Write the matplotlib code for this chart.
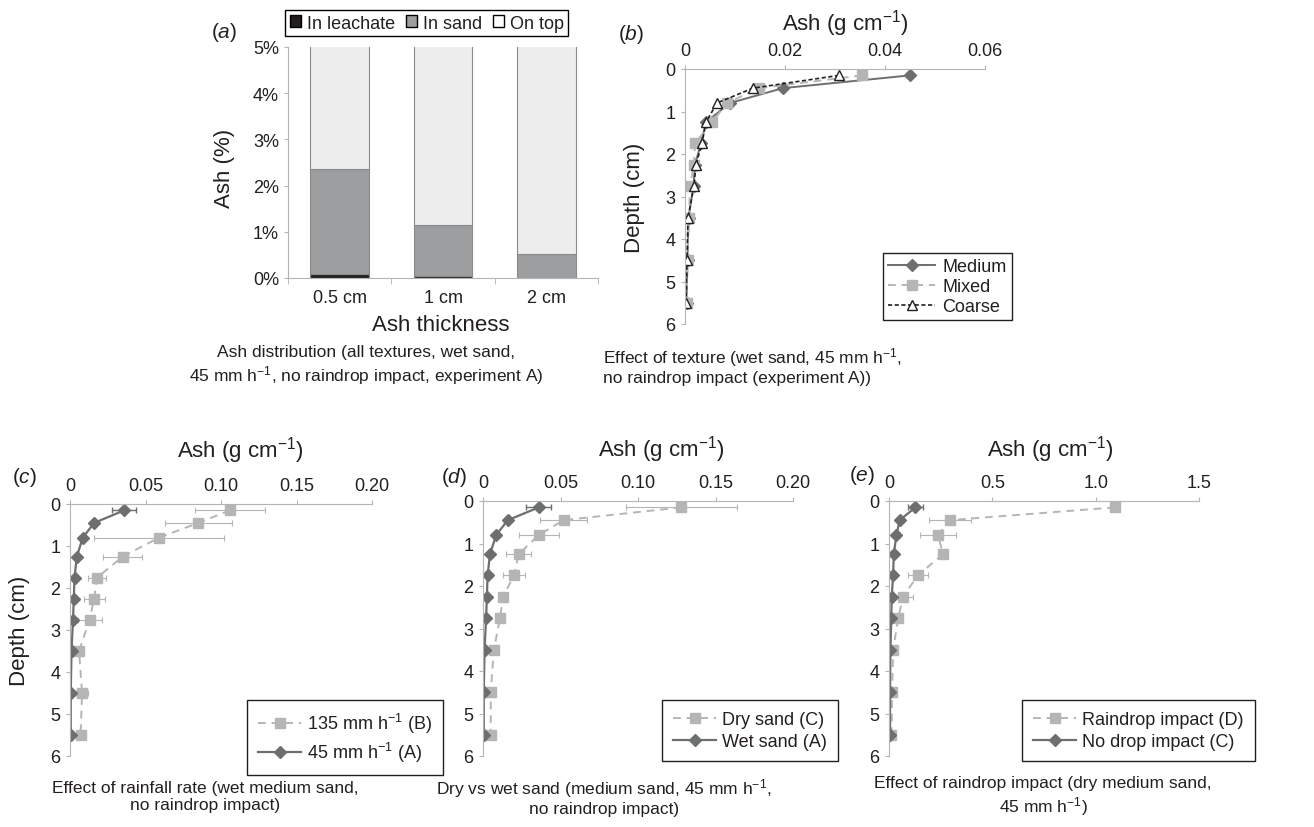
import numpy as np
import matplotlib
matplotlib.use('Agg')
import matplotlib.pyplot as plt
from matplotlib.patches import Patch

plt.rcParams['font.family'] = ['Liberation Sans', 'DejaVu Sans']
plt.rcParams['mathtext.fontset'] = 'custom'
plt.rcParams['mathtext.rm'] = 'Liberation Sans'
plt.rcParams['mathtext.it'] = 'Liberation Sans:italic'
plt.rcParams['text.color'] = '#231f20'
plt.rcParams['xtick.color'] = '#b4b4b4'
plt.rcParams['ytick.color'] = '#b4b4b4'
plt.rcParams['xtick.labelcolor'] = '#231f20'
plt.rcParams['ytick.labelcolor'] = '#231f20'

# ---- panel (a) data: ash distribution (% of applied ash)
thickness = ['0.5 cm', '1 cm', '2 cm']
in_leachate = [0.08, 0.05, 0.01]
in_sand = [2.27, 1.10, 0.50]
on_top = [97.65, 98.85, 99.49]

# ---- depth profiles (cm)
depth = [0.15, 0.45, 0.8, 1.25, 1.75, 2.25, 2.75, 3.5, 4.5, 5.5]

# panel (b): texture
medium = [0.045, 0.0196, 0.009, 0.0042, 0.0032, 0.002, 0.0017, 0.0007, 0.0005, 0.0003]
mixed = [0.0354, 0.0148, 0.0084, 0.0054, 0.002, 0.0018, 0.001, 0.0008, 0.0005, 0.0003]
coarse = [0.0308, 0.0136, 0.0064, 0.0042, 0.0034, 0.0022, 0.0018, 0.0006, 0.0004, 0.0002]

# experiment A (wet medium sand, 45 mm/h, no raindrop impact)
exp_a = [0.036, 0.016, 0.0085, 0.0045, 0.003, 0.0025, 0.002, 0.001, 0.0005, 0.0005]
exp_a_err = [0.008, 0.001, 0.001, 0.0005, 0.0005, 0.0005, 0.0005, 0.0003, 0.0002, 0.0002]

# experiment B (135 mm/h)
exp_b = [0.106, 0.085, 0.059, 0.035, 0.018, 0.016, 0.013, 0.006, 0.008, 0.007]
exp_b_err = [0.023, 0.022, 0.043, 0.013, 0.006, 0.007, 0.008, 0.002, 0.004, 0.002]

# experiment C (dry medium sand)
exp_c = [0.128, 0.052, 0.036, 0.023, 0.020, 0.013, 0.011, 0.007, 0.005, 0.005]
exp_c_err = [0.036, 0.015, 0.013, 0.008, 0.007, 0.002, 0.002, 0.001, 0.001, 0.001]

# experiment D (raindrop impact)
exp_d = [1.093, 0.295, 0.237, 0.261, 0.140, 0.068, 0.045, 0.020, 0.015, 0.012]
exp_d_err = [0.01, 0.10, 0.087, 0.01, 0.05, 0.05, 0.01, 0.005, 0.005, 0.005]

DARK = '#6d6e70'
LIGHT = '#b5b5b5'
SPINE = '#b4b4b4'
W, H = 1314, 828
TICK_FS = 13
LABEL_FS = 16


def box(x0, y0, x1, y1):
    # pixel box -> figure fraction rect
    return [x0 / W, 1 - y1 / H, (x1 - x0) / W, (y1 - y0) / H]


def depth_axes(rect, xmax, xticks, xticklabels):
    ax = fig.add_axes(rect)
    ax.set_xlim(0, xmax)
    ax.set_ylim(6, 0)
    ax.xaxis.tick_top()
    ax.set_xticks(xticks, xticklabels)
    ax.set_yticks(range(7))
    for s in ['bottom', 'right']:
        ax.spines[s].set_visible(False)
    for s in ['top', 'left']:
        ax.spines[s].set_color(SPINE)
    ax.tick_params(labelsize=TICK_FS, length=3, width=0.8, pad=4)
    return ax


fig = plt.figure(figsize=(13.14, 8.28), dpi=100)

# ---------------- (a)
ax = fig.add_axes(box(288, 48, 598, 279))
x = np.arange(len(thickness))
bw = 0.57
ax.bar(x, in_leachate, bw, color='#231f20', edgecolor='#8a8a8a', linewidth=0.8)
ax.bar(x, in_sand, bw, bottom=in_leachate, color='#9d9ea0', edgecolor='#8a8a8a', linewidth=0.8)
bottom2 = np.array(in_leachate) + np.array(in_sand)
ax.bar(x, on_top, bw, bottom=bottom2, color='#ededed', edgecolor='#8a8a8a', linewidth=0.8)
ax.set_xlim(-0.5, 2.5)
ax.set_ylim(0, 5)
ax.set_yticks(range(6), ['%d%%' % v for v in range(6)])
ax.set_xticks(x, thickness)
ax.set_xticks([-0.5, 0.5, 1.5, 2.5], minor=True)
ax.tick_params(axis='x', which='major', length=0, pad=8)
ax.tick_params(axis='x', which='minor', length=4, color=SPINE)
ax.tick_params(axis='y', length=3, color=SPINE)
ax.tick_params(labelsize=TICK_FS)
for s in ['top', 'right']:
    ax.spines[s].set_visible(False)
for s in ['bottom', 'left']:
    ax.spines[s].set_color(SPINE)
ax.text(-0.205, 0.48, 'Ash (%)', rotation=90, fontsize=LABEL_FS, ha='center', va='center',
        transform=ax.transAxes)
ax.text(0.494, -0.2, 'Ash thickness', fontsize=LABEL_FS, ha='center', va='center',
        transform=ax.transAxes)
handles = [Patch(facecolor='#231f20', edgecolor='black', label='In leachate'),
           Patch(facecolor='#9d9ea0', edgecolor='black', label='In sand'),
           Patch(facecolor='white', edgecolor='black', label='On top')]
fig.legend(handles=handles, loc='upper left', bbox_to_anchor=(285 / W, 1 - 11 / H), ncol=3,
           fontsize=13, frameon=True, fancybox=False, edgecolor='black', framealpha=1,
           handlelength=0.65, handleheight=0.65, handletextpad=0.3, columnspacing=0.6,
           borderpad=0.25, borderaxespad=0)
fig.text(211 / W, 1 - 33 / H, r'($\it{a}$)', fontsize=15, ha='left', va='center')

# ---------------- (b)
ax = depth_axes(box(685, 70, 985, 325), 0.06, [0, 0.02, 0.04, 0.06],
                ['0', '0.02', '0.04', '0.06'])
ax.plot(medium, depth, color=DARK, lw=1.4, marker='D', ms=6, mfc=DARK, mec=DARK, label='Medium')
ax.plot(mixed, depth, color=LIGHT, lw=1.4, ls=(0, (4, 3)), marker='s', ms=7, mfc=LIGHT,
        mec=LIGHT, label='Mixed')
ax.plot(coarse, depth, color='#231f20', lw=1.2, ls=(0, (2.5, 1.5)), marker='^', ms=7,
        mfc='white', mec='#231f20', mew=1, label='Coarse')
ax.text(0.533, 1.184, 'Ash (g cm$^{-1}$)', fontsize=LABEL_FS, ha='center', va='center',
        transform=ax.transAxes)
ax.text(-0.167, 0.5, 'Depth (cm)', rotation=90, fontsize=LABEL_FS, ha='center', va='center',
        transform=ax.transAxes)
fig.legend(*ax.get_legend_handles_labels(), loc='upper left',
           bbox_to_anchor=(883 / W, 1 - 254 / H), fontsize=13, frameon=True, fancybox=False,
           edgecolor='#231f20', framealpha=1, handlelength=2.6, handletextpad=0.4,
           borderpad=0.3, labelspacing=0.15, borderaxespad=0)
fig.text(618 / W, 1 - 35 / H, r'($\it{b}$)', fontsize=15, ha='left', va='center')


def two_series(ax, light, light_err, light_lab, dark, dark_err, dark_lab):
    ax.errorbar(light, depth, xerr=light_err, fmt='none', ecolor=LIGHT, elinewidth=0.8,
                capsize=2.5, capthick=0.8)
    ax.errorbar(dark, depth, xerr=dark_err, fmt='none', ecolor=DARK, elinewidth=1,
                capsize=2.5, capthick=1)
    l1, = ax.plot(light, depth, color=LIGHT, lw=1.4, ls=(0, (4, 3)), marker='s', ms=7,
                  mfc=LIGHT, mec=LIGHT, label=light_lab)
    l2, = ax.plot(dark, depth, color=DARK, lw=1.6, marker='D', ms=6, mfc=DARK, mec=DARK,
                  label=dark_lab)
    return [l1, l2]


def bottom_legend(handles, x0):
    fig.legend(handles=handles, loc='upper left', bbox_to_anchor=(x0 / W, 1 - 701 / H),
               fontsize=13, frameon=True, fancybox=False, edgecolor='#231f20', framealpha=1,
               handlelength=2.4, handletextpad=0.35, borderpad=0.6, labelspacing=0.3,
               borderaxespad=0)


# ---------------- (c)
ax = depth_axes(box(70, 505, 372, 757), 0.20, [0, 0.05, 0.10, 0.15, 0.20],
                ['0', '0.05', '0.10', '0.15', '0.20'])
hs = two_series(ax, exp_b, exp_b_err, '135 mm h$^{-1}$ (B)', exp_a, exp_a_err,
                '45 mm h$^{-1}$ (A)')
ax.text(0.563, 1.218, 'Ash (g cm$^{-1}$)', fontsize=LABEL_FS, ha='center', va='center',
        transform=ax.transAxes)
ax.text(-0.166, 0.5, 'Depth (cm)', rotation=90, fontsize=LABEL_FS, ha='center', va='center',
        transform=ax.transAxes)
bottom_legend(hs, 247)
fig.text(12 / W, 1 - 478 / H, r'($\it{c}$)', fontsize=15, ha='left', va='center')

# ---------------- (d)
ax = depth_axes(box(483, 502, 793, 757), 0.20, [0, 0.05, 0.10, 0.15, 0.20],
                ['0', '0.05', '0.10', '0.15', '0.20'])
hs = two_series(ax, exp_c, exp_c_err, 'Dry sand (C)', exp_a, exp_a_err, 'Wet sand (A)')
ax.text(0.574, 1.204, 'Ash (g cm$^{-1}$)', fontsize=LABEL_FS, ha='center', va='center',
        transform=ax.transAxes)
bottom_legend(hs, 662)
fig.text(441 / W, 1 - 478 / H, r'($\it{d}$)', fontsize=15, ha='left', va='center')

# ---------------- (e)
ax = depth_axes(box(889, 502, 1199, 757), 1.5, [0, 0.5, 1.0, 1.5], ['0', '0.5', '1.0', '1.5'])
hs = two_series(ax, exp_d, exp_d_err, 'Raindrop impact (D)', exp_c, exp_c_err,
                'No drop impact (C)')
ax.text(0.52, 1.204, 'Ash (g cm$^{-1}$)', fontsize=LABEL_FS, ha='center', va='center',
        transform=ax.transAxes)
bottom_legend(hs, 1022)
fig.text(849 / W, 1 - 476 / H, r'($\it{e}$)', fontsize=15, ha='left', va='center')

# ---------------- captions
cap = dict(fontsize=12.5, va='center', linespacing=1.2)
fig.text(366 / W, 1 - 366 / H,
         'Ash distribution (all textures, wet sand,\n45 mm h$^{-1}$, no raindrop impact, experiment A)',
         ha='center', multialignment='center', **cap)
fig.text(603 / W, 1 - 366 / H,
         'Effect of texture (wet sand, 45 mm h$^{-1}$,\nno raindrop impact (experiment A))',
         ha='left', multialignment='left', **cap)
fig.text(205 / W, 1 - 797 / H, 'Effect of rainfall rate (wet medium sand,\nno raindrop impact)',
         ha='center', multialignment='center', **cap)
fig.text(604 / W, 1 - 797 / H, 'Dry vs wet sand (medium sand, 45 mm h$^{-1}$,\nno raindrop impact)',
         ha='center', multialignment='center', **cap)
fig.text(1043 / W, 1 - 797 / H, 'Effect of raindrop impact (dry medium sand,\n45 mm h$^{-1}$)',
         ha='center', multialignment='center', **cap)

fig.savefig('out.png', dpi=100)
